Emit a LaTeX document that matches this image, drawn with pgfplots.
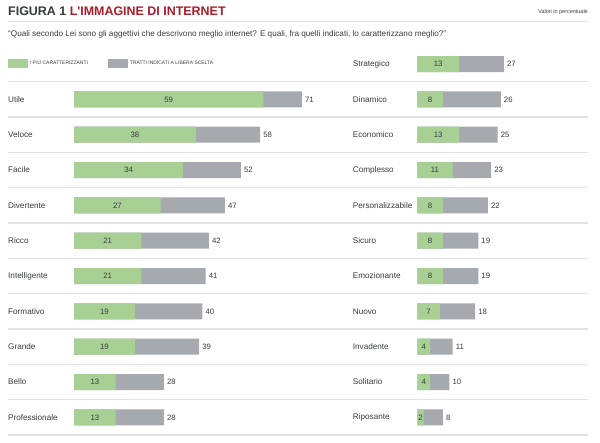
\documentclass[border=0pt]{standalone}
\usepackage{fontspec}
\setmainfont{Liberation Sans}
\newfontfamily\titolo{Liberation Sans Bold}
\usepackage{pgfplots}
\usepackage{pgfplotstable}
\pgfplotsset{compat=1.18}

\definecolor{verde}{RGB}{168,208,148}
\definecolor{grigio}{RGB}{166,170,175}
\definecolor{rosso}{RGB}{172,28,42}
\definecolor{testo}{RGB}{55,58,62}
\definecolor{riga}{RGB}{226,226,226}

% name  g = i piu caratterizzanti, t = tratti indicati a libera scelta
\pgfplotstableread{
name g t
Utile 59 71
Veloce 38 58
Facile 34 52
Divertente 27 47
Ricco 21 42
Intelligente 21 41
Formativo 19 40
Grande 19 39
Bello 13 28
Professionale 13 28
}\sinistra

\pgfplotstableread{
name g t
Strategico 13 27
Dinamico 8 26
Economico 13 25
Complesso 11 23
Personalizzabile 8 22
Sicuro 8 19
Emozionante 8 19
Nuovo 7 18
Invadente 4 11
Solitario 4 10
Riposante 2 8
}\destra

\pgfplotsset{
  barre/.style={
    y dir=reverse,
    y=35.33bp, x=3.21bp,
    xmin=0,
    axis line style={draw=none},
    xtick=\empty,
    major tick length=0pt,
    clip=false,
    /pgf/number format/assume math mode=true,
    yticklabel style={anchor=west, inner sep=0pt, font=\fontsize{8.2}{9}\selectfont, text=testo},
  },
  totale/.style={
    xbar, bar shift=0pt, bar width=16bp, fill=grigio, draw=none,
    nodes near coords,
    point meta=\thisrow{t},
    every node near coord/.append style={anchor=west, inner sep=0pt, xshift=3bp,
      font=\fontsize{7.8}{9}\selectfont, text=testo},
  },
  parte/.style={
    xbar, bar shift=0pt, bar width=16bp, fill=verde, draw=none,
    nodes near coords,
    point meta=\thisrow{g},
    visualization depends on={\thisrow{g} \as \gv},
    every node near coord/.append style={anchor=center, inner sep=0pt,
      xshift={-\gv*1.605bp},
      font=\fontsize{7.8}{9}\selectfont, text=testo},
  },
}

\begin{document}
\begin{tikzpicture}
\path[use as bounding box] (0,0) rectangle (600bp,443bp);

% titolo
\node[anchor=base west, inner sep=0pt, font=\fontsize{12.5}{14}\selectfont\titolo]
  at (8bp,427.7bp) {\textcolor{testo}{FIGURA 1} \textcolor{rosso}{L'IMMAGINE DI INTERNET}};
\node[anchor=base east, inner sep=0pt, font=\fontsize{5.5}{6}\selectfont, text=testo]
  at (588bp,429bp) {Valori in percentuale};
\draw[riga, line width=1.2bp] (8bp,421.5bp) -- (588bp,421.5bp);
\node[anchor=base west, inner sep=0pt, font=\fontsize{8.2}{9}\selectfont, text=testo]
  at (8bp,406.5bp) {“Quali secondo Lei sono gli aggettivi che descrivono meglio internet? E quali, fra quelli indicati, lo caratterizzano meglio?”};

% righe di separazione
\foreach \k in {0,...,10}
  \draw[riga, line width=1.5bp] (8bp,{(361.3-35.33*\k)*1bp}) -- (588bp,{(361.3-35.33*\k)*1bp});

\begin{axis}[barre,
  at={(74bp,361.3bp)}, anchor=north west,
  xmax=80, ymin=-0.5, ymax=9.5,
  ytick={0,...,9},
  yticklabels from table={\sinistra}{name},
  yticklabel style={xshift=-66bp},
  legend columns=2,
  legend style={draw=none, fill=none, inner sep=0pt, anchor=west,
    at={(-0.257,1.0515)},
    font=\fontsize{5}{6}\selectfont, text=testo,
    /tikz/every even column/.append style={column sep=18bp}},
  legend image code/.code={\path[draw=none, #1] (0bp,-4.5bp) rectangle (20bp,4.5bp);},
]
\addlegendimage{fill=verde}
\addlegendentry{I PIÙ CARATTERIZZANTI}
\addlegendimage{fill=grigio}
\addlegendentry{TRATTI INDICATI A LIBERA SCELTA}
\addplot[totale, forget plot] table[x=t, y expr=\coordindex] {\sinistra};
\addplot[parte, forget plot] table[x=g, y expr=\coordindex] {\sinistra};
\end{axis}

\begin{axis}[barre,
  at={(417.3bp,396.63bp)}, anchor=north west,
  xmax=50, ymin=-0.5, ymax=10.5,
  ytick={0,...,10},
  yticklabels from table={\destra}{name},
  yticklabel style={xshift=-64.6bp},
]
\addplot[totale] table[x=t, y expr=\coordindex] {\destra};
\addplot[parte] table[x=g, y expr=\coordindex] {\destra};
\end{axis}
\end{tikzpicture}
\end{document}
